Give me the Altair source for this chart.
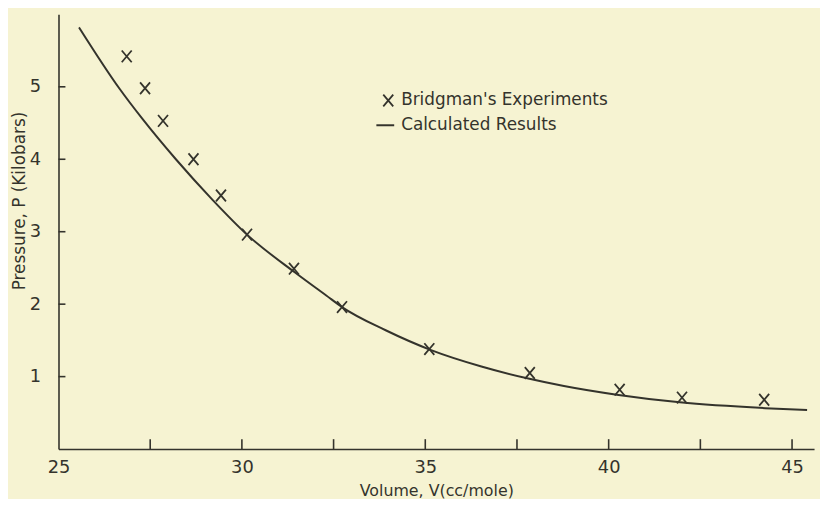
import altair as alt
import pandas as pd

# Bridgman's experiments (volume cc/mole, pressure kilobars)
exp_volume = [26.86, 27.36, 27.85, 28.68, 29.43, 30.14, 31.42, 32.73, 35.11, 37.85, 40.30, 42.00, 44.24]
exp_pressure = [5.42, 4.98, 4.53, 4.00, 3.50, 2.96, 2.49, 1.96, 1.38, 1.05, 0.82, 0.71, 0.68]

# Calculated results curve
calc_volume = [25.56, 26.67, 27.30, 28.20, 29.20, 30.14, 31.44, 32.30, 32.73, 33.92, 35.14,
               36.53, 37.84, 38.78, 40.22, 41.94, 44.27, 45.41]
calc_pressure = [5.82, 4.97, 4.55, 4.00, 3.44, 2.96, 2.44, 2.12, 1.96, 1.64, 1.37,
                 1.14, 0.97, 0.87, 0.75, 0.645, 0.565, 0.54]

x_label_values = [25, 30, 35, 40, 45]
x_tick_values = [27.5, 30, 32.5, 35, 37.5, 40, 42.5, 45]
y_tick_values = [1, 2, 3, 4, 5]
legend_labels = ["Bridgman's Experiments", "Calculated Results"]
x_title = "Volume, V(cc/mole)"
y_title = "Pressure, P (Kilobars)"

BG = "#f6f3d2"
INK = "#34332c"
FONT = "DejaVu Sans"
W, H = 763, 439
XPATH = "M-0.85,-1L0.85,1M-0.85,1L0.85,-1"

exp_df = pd.DataFrame({"V": exp_volume, "P": exp_pressure})
calc_df = pd.DataFrame({"V": calc_volume, "P": calc_pressure})
xt_df = pd.DataFrame({"V": x_tick_values})
yt_df = pd.DataFrame({"P": y_tick_values})
leg_df = pd.DataFrame({"label": legend_labels, "row": [0, 1]})

xs = alt.Scale(domain=[25, 45.6], nice=False, zero=False)
ys = alt.Scale(domain=[0, 6], nice=False, zero=False)

xaxis = alt.Axis(values=x_label_values, ticks=False, grid=False, labelPadding=10,
                 labelFontSize=18, labelFont=FONT, labelColor=INK, labelFlush=False,
                 domainColor=INK, domainWidth=1.6, format="d",
                 titleFont=FONT, titleFontSize=16, titleFontWeight="normal", titleColor=INK,
                 titleY=42, titleBaseline="middle")
yaxis = alt.Axis(values=y_tick_values, ticks=False, grid=False, labelPadding=18,
                 labelFontSize=18, labelFont=FONT, labelColor=INK, format="d",
                 domainColor=INK, domainWidth=1.6,
                 titleFont=FONT, titleFontSize=17, titleFontWeight="normal", titleColor=INK,
                 titleX=-39, titleY=188, titleAngle=270, titleBaseline="middle", titleAlign="center")


def X(field):
    return alt.X(field, type="quantitative", scale=xs, axis=xaxis, title=x_title)


def Y(field):
    return alt.Y(field, type="quantitative", scale=ys, axis=yaxis, title=y_title)


line = alt.Chart(calc_df).mark_line(color=INK, strokeWidth=2, interpolate="monotone").encode(
    x=X("V"), y=Y("P"))

points = alt.Chart(exp_df).mark_point(shape=XPATH, filled=False, size=140, strokeWidth=1.8,
                                      color=INK, opacity=1).encode(x=X("V"), y=Y("P"))

xticks = alt.Chart(xt_df).mark_rule(color=INK, strokeWidth=1.6).encode(
    x=X("V"), y=alt.value(H), y2=alt.value(H - 10))

yticks = alt.Chart(yt_df).mark_rule(color=INK, strokeWidth=1.6).encode(
    y=Y("P"), x=alt.value(0), x2=alt.value(7))

leg_text1 = alt.Chart(leg_df).transform_filter("datum.row == 0").mark_text(
    align="left", baseline="middle", font=FONT, fontSize=17, color=INK).encode(
    text="label:N", x=alt.value(346), y=alt.value(87))
leg_text2 = alt.Chart(leg_df).transform_filter("datum.row == 1").mark_text(
    align="left", baseline="middle", font=FONT, fontSize=17, color=INK).encode(
    text="label:N", x=alt.value(346), y=alt.value(112))
leg_sym = alt.Chart(leg_df).transform_filter("datum.row == 0").mark_point(
    shape=XPATH, filled=False, size=140, strokeWidth=1.8, color=INK, opacity=1).encode(
    x=alt.value(333), y=alt.value(87))
leg_line = alt.Chart(leg_df).transform_filter("datum.row == 1").mark_rule(
    color=INK, strokeWidth=2).encode(x=alt.value(321), x2=alt.value(339), y=alt.value(112))

chart = alt.layer(line, points, xticks, yticks, leg_sym, leg_text1, leg_line, leg_text2).properties(
    width=W, height=H, background=BG, autosize="none",
    padding={"left": 51, "top": 4, "right": 6, "bottom": 48},
).configure_view(stroke=None)

chart.save("out.html", embed_options={"renderer": "svg", "actions": False})
